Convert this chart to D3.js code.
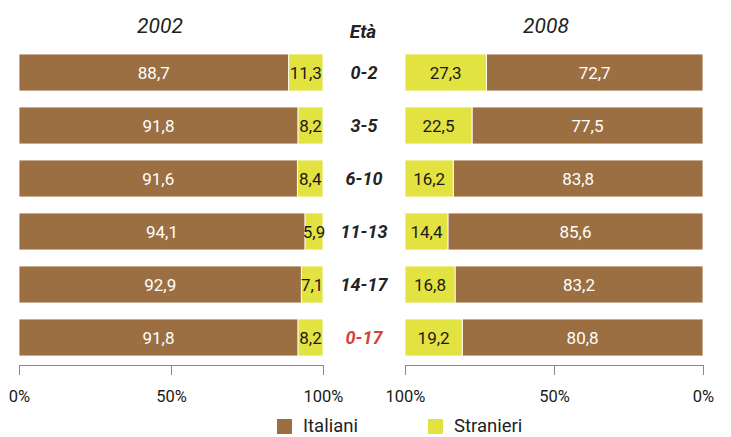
<!DOCTYPE html>
<html><head><meta charset="utf-8">
<script src="https://cdn.jsdelivr.net/npm/d3@7"></script>
<style>body{margin:0;background:#fff}svg{display:block}text{font-family:Roboto,"Liberation Sans",sans-serif}</style>
</head><body><svg id="c" width="731" height="437"></svg>
<script>
const ages = ["0-2","3-5","6-10","11-13","14-17","0-17"];
const ital2002 = [88.7,91.8,91.6,94.1,92.9,91.8];
const stran2002 = [11.3,8.2,8.4,5.9,7.1,8.2];
const ital2008 = [72.7,77.5,83.8,85.6,83.2,80.8];
const stran2008 = [27.3,22.5,16.2,14.4,16.8,19.2];
const tickVals = [0,50,100];
const years = ["2002","2008"];
const legendLabels = ["Italiani","Stranieri"];

const brown = "#9b6f42", yellow = "#e2e240", red = "#d6403a";
const svg = d3.select("#c");
const fmt = v => String(v.toFixed(1)).replace(".", ",");

const y = d3.scaleBand().domain(ages).range([54, 356]).paddingInner(16/53).paddingOuter(0);
const xL = d3.scaleLinear().domain([0,100]).range([19,323]);
const xR = d3.scaleLinear().domain([100,0]).range([405,703]);

function panel(x, ital, stran) {
  const g = svg.append("g");
  ages.forEach((a,i) => {
    const segs = [
      {v0:0, v1:ital[i], c:brown, lab:fmt(ital[i]), tc:"#fff"},
      {v0:ital[i], v1:ital[i]+stran[i], c:yellow, lab:fmt(stran[i]), tc:"#1a1a1a"}
    ];
    segs.forEach(s => {
      const xa = Math.min(x(s.v0), x(s.v1)), xb = Math.max(x(s.v0), x(s.v1));
      g.append("rect").attr("x", xa).attr("y", y(a)).attr("width", xb-xa).attr("height", y.bandwidth())
        .attr("fill", s.c).attr("stroke", "#fff").attr("stroke-width", 1).attr("stroke-opacity", 0.85);
      g.append("text").attr("x", (xa+xb)/2).attr("y", y(a)+y.bandwidth()/2).attr("dy","0.36em")
        .attr("text-anchor","middle").attr("font-size", 17).attr("fill", s.tc).text(s.lab);
    });
  });
  const ax = svg.append("g").attr("transform","translate(0,365)")
    .call(d3.axisBottom(x).tickValues(tickVals).tickSize(10).tickSizeOuter(0).tickFormat(d => d + "%"));
  ax.select(".domain").attr("stroke","#888").attr("d", `M${x.range()[0]},0.5H${x.range()[1]}`);
  ax.selectAll(".tick line").attr("stroke","#888");
  ax.selectAll(".tick text").attr("font-size", 16.5).attr("fill","#1a1a1a").attr("y", 37).attr("dy", null)
    .attr("font-family","Roboto, sans-serif");
}
panel(xL, ital2002, stran2002);
panel(xR, ital2008, stran2008);

// titles
svg.append("text").attr("x", 160).attr("y", 33).attr("text-anchor","middle").attr("font-size", 21)
  .attr("font-style","italic").attr("fill","#222").text(years[0]);
svg.append("text").attr("x", 546).attr("y", 33).attr("text-anchor","middle").attr("font-size", 21)
  .attr("font-style","italic").attr("fill","#222").text(years[1]);
svg.append("text").attr("x", 363).attr("y", 38).attr("text-anchor","middle").attr("font-size", 19)
  .attr("font-style","italic").attr("font-weight","bold").attr("fill","#222").text("Età");

// age labels
ages.forEach((a,i) => {
  svg.append("text").attr("x", 364).attr("y", y(a)+y.bandwidth()/2).attr("dy","0.36em")
    .attr("text-anchor","middle").attr("font-size", 18).attr("font-style","italic").attr("font-weight","bold")
    .attr("fill", i === ages.length-1 ? red : "#222").text(a);
});

// legend
const leg = [{x:277, c:brown}, {x:428, c:yellow}];
leg.forEach((l,i) => {
  svg.append("rect").attr("x", l.x).attr("y", 419).attr("width", 15).attr("height", 15).attr("fill", l.c);
  svg.append("text").attr("x", l.x+26).attr("y", 432).attr("font-size", 18.5).attr("fill","#222").text(legendLabels[i]);
});
</script></body></html>
